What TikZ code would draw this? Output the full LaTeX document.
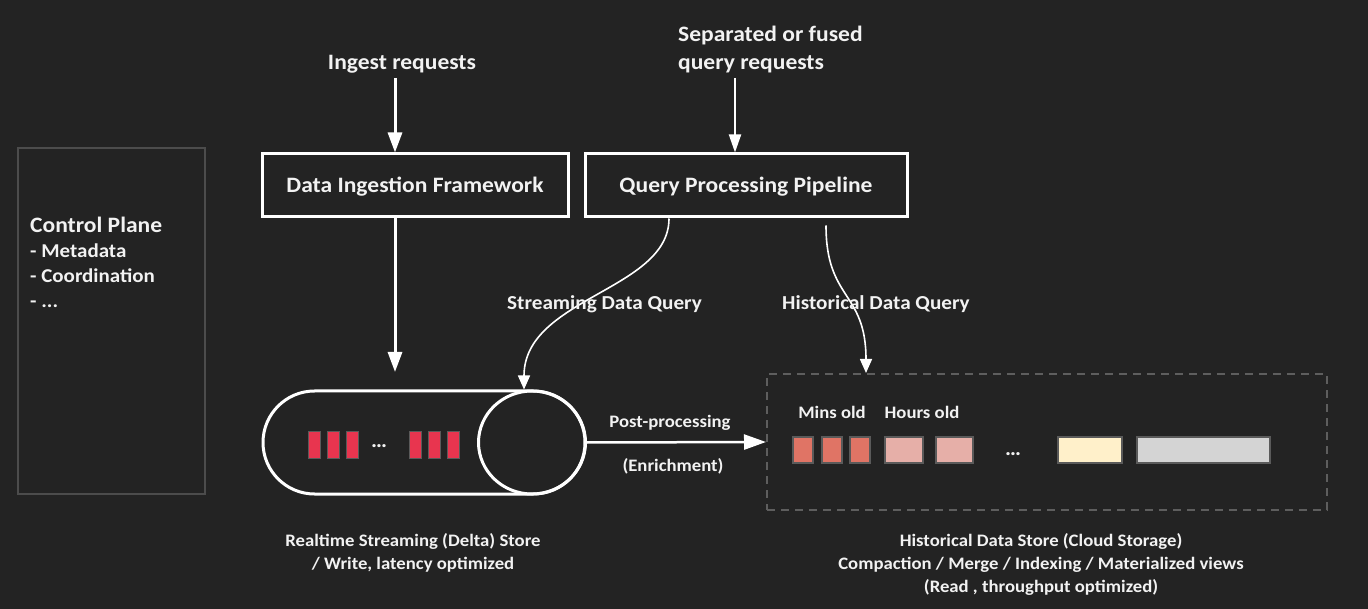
\documentclass[tikz,border=0pt]{standalone}
\usepackage{fontspec}
\setmainfont{Carlito}[FakeStretch=1.07]
\usetikzlibrary{arrows.meta,shapes.misc,shapes.geometric}
\definecolor{bg}{HTML}{232323}
\definecolor{txt}{HTML}{F2F2F2}
\definecolor{cpline}{HTML}{4C4C4C}
\definecolor{dashline}{HTML}{5E5E5E}
\definecolor{barred}{HTML}{E8354F}
\definecolor{minsc}{HTML}{E07465}
\definecolor{hoursc}{HTML}{E6AFA8}
\definecolor{yellowc}{HTML}{FFF0CA}
\definecolor{greyc}{HTML}{D4D4D4}
\definecolor{cellb}{HTML}{5A5A5A}
\tikzset{
  lbl/.style={text=txt, font=\bfseries\fontsize{22}{26}\selectfont, inner sep=0pt, anchor=base},
  qlbl/.style={text=txt, font=\bfseries\fontsize{19.8}{24}\selectfont, inner sep=0pt, anchor=base west},
  smlbl/.style={text=txt, font=\bfseries\fontsize{17.5}{20}\selectfont, inner sep=0pt, anchor=base},
  cplbl/.style={text=txt, font=\bfseries\fontsize{19.6}{22}\selectfont, inner sep=0pt, anchor=base west},
  framebox/.style={draw=white, line width=3pt, minimum height=63pt, inner sep=0pt},
  boxtxt/.style={text=txt, font=\bfseries\fontsize{22}{26}\selectfont, inner sep=0pt, anchor=base},
  bigarrow/.style={draw=white, line width=3pt, -{Triangle[width=14pt,length=20pt]}},
  midarrow/.style={draw=white, line width=2pt, -{Triangle[width=12pt,length=18pt]}},
  curvearrow/.style={draw=white, line width=1.6pt, -{Triangle[width=12pt,length=14pt]}},
  redbar/.style={fill=barred, draw=cellb, line width=0.8pt, minimum width=12pt, minimum height=27pt, inner sep=0pt},
  cell/.style={draw=cellb, line width=1.5pt, minimum height=26pt, inner sep=0pt},
  dotstxt/.style={text=txt, font=\bfseries\fontsize{21}{24}\selectfont, inner sep=0pt, anchor=base},
}
\begin{document}
\begin{tikzpicture}[x=1pt,y=-1pt]
\fill[bg] (0,0) rectangle (1368,609);
\useasboundingbox (0,0) rectangle (1368,609);

% control plane
\node[draw=cpline, line width=2pt, minimum width=187pt, minimum height=346pt, inner sep=0pt] (cp) at (111.5,321) {};
\node[cplbl, font=\bfseries\fontsize{22}{26}\selectfont] (cpt) at (30,233) {Control Plane};
\node[cplbl] (cp1) at (30,258) {- Metadata};
\node[cplbl] (cp2) at (30,283) {- Coordination};
\node[cplbl] (cp3) at (30,308) {- ...};

% top boxes
\node[framebox, minimum width=306pt] (dif) at (415,185.5) {};
\node[framebox, minimum width=322pt] (qpp) at (746,185.5) {};
\node[boxtxt] (dift) at (415,193) {Data Ingestion Framework};
\node[boxtxt] (qppt) at (746,193) {Query Processing Pipeline};

% request labels
\node[lbl] (ing) at (402,70) {Ingest requests};
\node[lbl, anchor=base west] (sep1) at (678,42) {Separated or fused};
\node[lbl, anchor=base west] (sep2) at (678,70) {query requests};

\coordinate (ingx) at (395,0);
\coordinate (qx) at (735,0);
\coordinate (ingstart) at (395,78);
\coordinate (qstart) at (735,78);
\draw[bigarrow] (ingstart) -- (dif.north -| ingx);
\draw[midarrow] (qstart) -- (qpp.north -| qx);

% streaming store
\node[draw=white, line width=3pt, rounded rectangle, minimum width=322pt, minimum height=103pt, inner sep=0pt] (pill) at (424,442.5) {};
\node[draw=white, line width=3pt, ellipse, minimum width=107pt, minimum height=103pt, inner sep=0pt] (delta) at (532,442.5) {};

\foreach \n/\x in {a/314,b/333,c/352.5,d/415,e/434.5,f/453.5}
  \node[redbar] (bar\n) at (\x,444.5) {};
\node[dotstxt] (dots1) at (379,447) {\dots};

\coordinate (ingend) at (395,372);
\draw[bigarrow] (dif.south -| ingx) -- (ingend);

% historical store
\node[draw=dashline, line width=2pt, dash pattern=on 8pt off 6pt, minimum width=560pt, minimum height=136pt, inner sep=0pt] (hist) at (1047,442) {};

\node[smlbl] (mins) at (832,418) {Mins old};
\node[smlbl] (hours) at (922,418) {Hours old};

\node[cell, fill=minsc, minimum width=20pt] (m1) at (803,450) {};
\node[cell, fill=minsc, minimum width=20pt] (m2) at (832,450) {};
\node[cell, fill=minsc, minimum width=20pt] (m3) at (860,450) {};
\node[cell, fill=hoursc, minimum width=38pt] (h1) at (904,450) {};
\node[cell, fill=hoursc, minimum width=37pt] (h2) at (954.5,450) {};
\node[dotstxt] (dots2) at (1013,455) {\dots};
\node[cell, fill=yellowc, minimum width=64pt] (y1) at (1090,450) {};
\node[cell, fill=greyc, minimum width=133pt] (g1) at (1203.5,450) {};

% query curves
\coordinate (sx) at (669,0);
\coordinate (hx) at (826,0);
\coordinate (sendx) at (524,0);
\coordinate (hendx) at (866,0);
\draw[curvearrow] (qpp.south -| sx) .. controls +(0,72) and +(0,-92) .. (delta.north -| sendx);
\draw[curvearrow] ([yshift=-7pt]qpp.south -| hx) .. controls +(0,75) and +(0,-82) .. (hist.north -| hendx);

\node[qlbl] (sdq) at (507,310) {Streaming Data Query};
\node[qlbl] (hdq) at (782,310) {Historical Data Query};

% post-processing
\draw[bigarrow, line width=2.5pt, -{Triangle[width=15pt,length=22pt]}] (delta.east) -- (hist.west);
\node[smlbl] (pp1) at (670,427) {Post-processing};
\node[smlbl] (pp2) at (673,471) {(Enrichment)};

% bottom captions
\node[smlbl] (rs1) at (413,546) {Realtime Streaming (Delta) Store};
\node[smlbl] (rs2) at (413,569) {/ Write, latency optimized};
\node[smlbl] (hs1) at (1041,546) {Historical Data Store (Cloud Storage)};
\node[smlbl] (hs2) at (1041,569) {Compaction / Merge / Indexing / Materialized views};
\node[smlbl] (hs3) at (1041,592) {(Read , throughput optimized)};
\end{tikzpicture}
\end{document}
